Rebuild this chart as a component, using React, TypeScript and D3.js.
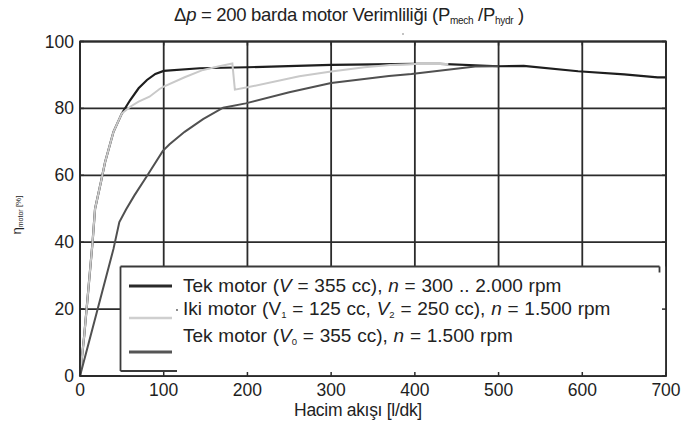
import React from "react";
import * as d3 from "d3";

const xTicks = [0, 100, 200, 300, 400, 500, 600, 700];
const yTicks = [0, 20, 40, 60, 80, 100];

// Tek motor (V = 355 cc), n = 300 .. 2.000 rpm
const seriesTekVar: [number, number][] = [
  [0, 0], [5, 12], [10, 26], [15, 40], [18, 50], [25, 58], [30, 64], [40, 73],
  [50, 78.5], [60, 82.5], [70, 86], [80, 88.5], [90, 90.3], [100, 91.2],
  [143, 92], [200, 92.3], [300, 93], [400, 93.3], [430, 93.3], [500, 92.6],
  [530, 92.7], [595, 91.1], [650, 90.2], [690, 89.3], [700, 89.3],
];
// Iki motor (V1 = 125 cc, V2 = 250 cc), n = 1.500 rpm
const seriesIki: [number, number][] = [
  [0, 0], [5, 12], [10, 26], [15, 40], [18, 50], [25, 58], [30, 64], [40, 73],
  [50, 78.5], [60, 80.5], [70, 82], [83, 83.5], [95, 85.8], [100, 86.5],
  [125, 89.3], [147, 91.5], [165, 92.5], [182, 93.4], [185, 85.6], [200, 86.3],
  [262, 89.6], [300, 91], [340, 92.3], [370, 93], [400, 93.3], [440, 93.3],
];
// Tek motor (V0 = 355 cc), n = 1.500 rpm
const seriesTekFix: [number, number][] = [
  [0, 0], [20, 19], [40, 38], [47, 46], [55, 49.8], [65, 54], [80, 59.8],
  [99, 67.3], [107, 69.3], [125, 73], [147, 76.8], [171, 80.2], [198, 81.5],
  [250, 84.8], [300, 87.6], [369, 89.7], [396, 90.3], [472, 92.5], [500, 92.6],
];

const W = 683;
const H = 428;
const left = 80;
const right = 666;
const top = 41.5;
const bottom = 376;

const FONT = "'Liberation Sans', Arial, Helvetica, sans-serif";

export default function App() {
  const x = d3.scaleLinear().domain([0, 700]).range([left, right]);
  const y = d3.scaleLinear().domain([0, 100]).range([bottom, top]);
  const line = d3
    .line<[number, number]>()
    .x((d) => x(d[0]))
    .y((d) => y(d[1]))
    .curve(d3.curveLinear);

  const gridColor = "#2b2b2b";

  // legend geometry
  const lgL = 120.5;
  const lgT = 266.5;
  const lgR = 659.5;
  const lgB = 371;
  const sampleX1 = 129;
  const sampleX2 = 172;
  const textX = 183;

  return (
    <svg
      width={W}
      height={H}
      style={{ position: "absolute", left: 0, top: 0, background: "#fff" }}
      fontFamily={FONT}
    >
      <rect x={0} y={0} width={W} height={H} fill="#fff" />
      {/* title */}
      <text x={349} y={21} textAnchor="middle" fontSize={18.5} fill="#222" letterSpacing={-0.3}>
        <tspan>Δ</tspan>
        <tspan fontStyle="italic">p</tspan>
        <tspan> = 200 barda motor Verimliliği (P</tspan>
        <tspan fontSize={10} dy={3}>mech</tspan>
        <tspan dy={-3}> /P</tspan>
        <tspan fontSize={10} dy={3}>hydr</tspan>
        <tspan dy={-3}> )</tspan>
      </text>
      <circle cx={403} cy={34} r={0.8} fill="#777" />

      {/* grid */}
      <g stroke={gridColor} strokeWidth={1.8}>
        {xTicks.map((t) => (
          <line key={"gx" + t} x1={x(t)} x2={x(t)} y1={top} y2={bottom} />
        ))}
        {yTicks.map((t) => (
          <line key={"gy" + t} x1={left} x2={right} y1={y(t)} y2={y(t)} />
        ))}
      </g>

      {/* curves */}
      <path d={line(seriesTekVar) || ""} fill="none" stroke="#1e1e1e" strokeWidth={2.2} />
      <path d={line(seriesIki) || ""} fill="none" stroke="#c9c9c9" strokeWidth={2} />
      <path d={line(seriesTekFix) || ""} fill="none" stroke="#505050" strokeWidth={2} />

      {/* legend */}
      <rect x={lgL} y={lgT} width={right - lgL} height={bottom - lgT} fill="#fff" />
      <g stroke="#3a3a3a" strokeWidth={1.8} fill="none">
        <line x1={lgL} x2={lgR} y1={lgT} y2={lgT} />
        <line x1={lgL} x2={lgL} y1={lgT} y2={lgB} />
        <line x1={lgL} x2={177} y1={lgB} y2={lgB} />
        <line x1={lgR} x2={lgR} y1={lgT} y2={lgT + 6} />
      </g>
      <line x1={sampleX1} x2={sampleX2} y1={286} y2={286} stroke="#2a2a2a" strokeWidth={3} />
      <line x1={sampleX1} x2={sampleX2} y1={318} y2={318} stroke="#cfcfcf" strokeWidth={2.5} />
      <line x1={sampleX1} x2={sampleX2} y1={352} y2={352} stroke="#555" strokeWidth={3} />
      <g fontSize={19} fill="#222" wordSpacing={0.5}>
        <text x={textX} y={292}>
          <tspan>Tek motor (</tspan>
          <tspan fontStyle="italic">V</tspan>
          <tspan> = 355 cc), </tspan>
          <tspan fontStyle="italic">n</tspan>
          <tspan> = 300 .. 2.000 rpm</tspan>
        </text>
        <text x={textX} y={315}>
          <tspan>Iki motor (V</tspan>
          <tspan fontSize={9.5} dy={3}>1</tspan>
          <tspan dy={-3}> = 125 cc, </tspan>
          <tspan fontStyle="italic">V</tspan>
          <tspan fontSize={9.5} dy={3}>2</tspan>
          <tspan dy={-3}> = 250 cc), </tspan>
          <tspan fontStyle="italic">n</tspan>
          <tspan> = 1.500 rpm</tspan>
        </text>
        <text x={textX} y={342}>
          <tspan>Tek motor (</tspan>
          <tspan fontStyle="italic">V</tspan>
          <tspan fontSize={9.5} dy={3}>0</tspan>
          <tspan dy={-3}> = 355 cc), </tspan>
          <tspan fontStyle="italic">n</tspan>
          <tspan> = 1.500 rpm</tspan>
        </text>
      </g>
      <circle cx={177} cy={310} r={0.9} fill="#555" />

      {/* ticks inside */}
      <g stroke={gridColor} strokeWidth={1.5}>
        {xTicks.map((t) => (
          <g key={"tx" + t}>
            <line x1={x(t)} x2={x(t)} y1={bottom} y2={bottom - 4} />
            <line x1={x(t)} x2={x(t)} y1={top} y2={top + 4} />
          </g>
        ))}
        {yTicks.map((t) => (
          <g key={"ty" + t}>
            <line x1={left} x2={left + 4} y1={y(t)} y2={y(t)} />
            <line x1={right} x2={right - 4} y1={y(t)} y2={y(t)} />
          </g>
        ))}
      </g>

      {/* axes box */}
      <rect x={left} y={top} width={right - left} height={bottom - top} fill="none" stroke={gridColor} strokeWidth={1.8} />

      {/* tick labels */}
      <g fontSize={17.5} fill="#1e1e1e">
        {yTicks.map((t) => (
          <text key={"ly" + t} x={left - 6} y={y(t) + 6} textAnchor="end">
            {t}
          </text>
        ))}
        {xTicks.map((t) => (
          <text key={"lx" + t} x={x(t)} y={bottom + 20} textAnchor="middle">
            {t}
          </text>
        ))}
      </g>

      {/* axis labels */}
      <text x={358} y={416} textAnchor="middle" fontSize={17.5} fill="#222" letterSpacing={-0.3}>
        Hacim akışı [l/dk]
      </text>
      <text transform="translate(21,215) rotate(-90)" textAnchor="middle" fill="#222">
        <tspan fontSize={13}>η</tspan>
        <tspan fontSize={7} dy={2}>motor</tspan>
        <tspan fontSize={8} dy={-2}> [%]</tspan>
      </text>
    </svg>
  );
}
